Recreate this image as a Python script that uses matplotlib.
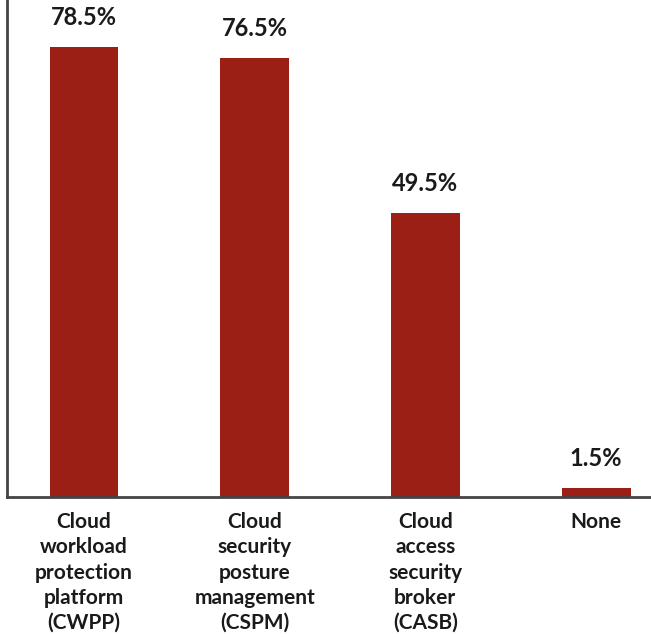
import matplotlib.pyplot as plt

categories = ["Cloud\nworkload\nprotection\nplatform\n(CWPP)",
              "Cloud\nsecurity\nposture\nmanagement\n(CSPM)",
              "Cloud\naccess\nsecurity\nbroker\n(CASB)",
              "None"]
values = [78.5, 76.5, 49.5, 1.5]
labels = ["78.5%", "76.5%", "49.5%", "1.5%"]

plt.rcParams['font.family'] = ['Lato', 'DejaVu Sans']

fig = plt.figure(figsize=(6.51, 6.37), dpi=100)
ax = fig.add_axes([7 / 651, 1 - 497 / 637, 644 / 651, 497 / 637])

x = range(len(values))
ax.bar(x, values, width=0.404, color="#9B1F15")
for i, v in enumerate(values):
    ax.text(i, v + 3.9, labels[i], ha="center", va="baseline",
            fontsize=17, fontweight="bold", color="#1a1a1a")

ax.set_xlim(-0.451, 3.322)
ax.set_ylim(0, 86.7)
ax.set_xticks(list(x))
ax.set_xticklabels(categories, fontsize=15, fontweight="bold",
                   color="#1a1a1a", linespacing=1.32)
ax.tick_params(axis="x", length=0, pad=11)
ax.set_yticks([])
for s in ["top", "right"]:
    ax.spines[s].set_visible(False)
for s in ["left", "bottom"]:
    ax.spines[s].set_color("#444444")
    ax.spines[s].set_linewidth(2)

fig.savefig("out.png", dpi=100)
